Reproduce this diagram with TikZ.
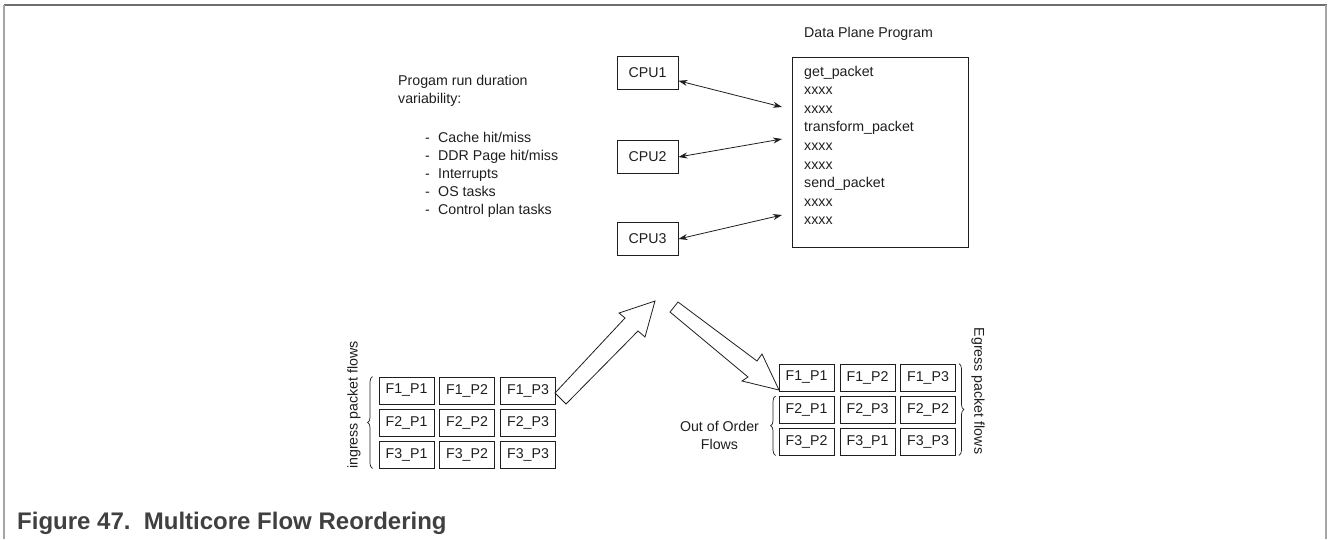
\documentclass[tikz,border=0pt]{standalone}
\usepackage{fontspec}
\setmainfont{Liberation Sans}
\usetikzlibrary{decorations.pathreplacing,arrows.meta,calc}
\definecolor{frametop}{RGB}{110,110,110}
\definecolor{frameside}{RGB}{165,165,165}
\definecolor{capgray}{RGB}{64,64,64}
\definecolor{ink}{RGB}{30,30,30}
\begin{document}
\begin{tikzpicture}[x=1pt,y=-1pt,
  txt/.style={font=\fontsize{14.2}{18.6}\selectfont, inner sep=0pt, text=ink},
  pkt/.style={draw=ink, line width=0.9pt, minimum width=55pt, minimum height=27pt, inner sep=0pt, font=\fontsize{14.2}{16}\selectfont, text=ink},
  cpu/.style={draw=ink, line width=0.9pt, minimum width=61pt, minimum height=33pt, inner sep=0pt, font=\fontsize{14.2}{16}\selectfont, text=ink},
  dbl/.style={{Stealth[length=9pt,width=6pt]}-{Stealth[length=9pt,width=6pt]}, line width=0.8pt, draw=ink},
  brc/.style={decorate, decoration={brace, amplitude=5pt}, line width=0.7pt, draw=ink},
  blk/.style={draw=ink, line width=0.8pt, fill=white, line join=miter}
]
\useasboundingbox (0,0) rectangle (1328,539);
% frame
\draw[frametop, line width=1.5pt] (4,5) -- (1327,5);
\draw[frameside, line width=1.2pt] (4,5) -- (4,539);
\draw[frameside, line width=1.2pt] (1326,5) -- (1326,539);

% data plane program
\node[txt, anchor=base west] (dpt) at (804,37) {Data Plane Program};
\node[draw=ink, line width=0.9pt, minimum width=176pt, minimum height=190pt, anchor=north west, inner sep=0pt] (dp) at (792,57) {};
\node[txt, anchor=base west] (l1) at (804,76) {get\_packet};
\node[txt, anchor=base west] (l2) at (804,94.6) {xxxx};
\node[txt, anchor=base west] (l3) at (804,113.2) {xxxx};
\node[txt, anchor=base west] (l4) at (804,131.8) {transform\_packet};
\node[txt, anchor=base west] (l5) at (804,150.4) {xxxx};
\node[txt, anchor=base west] (l6) at (804,169) {xxxx};
\node[txt, anchor=base west] (l7) at (804,187.6) {send\_packet};
\node[txt, anchor=base west] (l8) at (804,206.2) {xxxx};
\node[txt, anchor=base west] (l9) at (804,224.8) {xxxx};

% CPUs
\node[cpu] (cpu1) at (647.5,72.5) {CPU1};
\node[cpu] (cpu2) at (647.5,157) {CPU2};
\node[cpu] (cpu3) at (647.5,239) {CPU3};
\coordinate (d1) at (782,107);
\coordinate (d2) at (782,139);
\coordinate (d3) at (782,215);
\draw[dbl] (cpu1.-15) -- (d1);
\draw[dbl] (cpu2.east) -- (d2);
\draw[dbl] (cpu3.east) -- (d3);

% variability text
\node[txt, anchor=base west] (v1) at (398,85) {Progam run duration};
\node[txt, anchor=base west] (v2) at (398,103.5) {variability:};
\foreach \i/\t/\yy in {1/Cache hit\slash miss/142, 2/DDR Page hit\slash miss/160, 3/Interrupts/178, 4/OS tasks/196, 5/Control plan tasks/214}{
  \node[txt, anchor=base west] (dash\i) at (425,\yy) {-};
  \node[txt, anchor=base west] (b\i) at (438,\yy) {\t};
}

% ingress packets
\node[pkt] (i11) at (406.5,390.5) {F1\_P1};
\node[pkt] (i12) at (467,390.5) {F1\_P2};
\node[pkt] (i13) at (528,390.5) {F1\_P3};
\node[pkt] (i21) at (406.5,422.5) {F2\_P1};
\node[pkt] (i22) at (467,422.5) {F2\_P2};
\node[pkt] (i23) at (528,422.5) {F2\_P3};
\node[pkt] (i31) at (406.5,454.5) {F3\_P1};
\node[pkt] (i32) at (467,454.5) {F3\_P2};
\node[pkt] (i33) at (528,454.5) {F3\_P3};
\draw[brc] ($(i31.south west)+(-6,0)$) -- ($(i11.north west)+(-6,0)$);
\node[txt, rotate=90] (ing) at (354,405) {ingress packet flows};

% egress packets
\node[pkt] (e11) at (806.5,377.5) {F1\_P1};
\node[pkt] (e12) at (867.5,377.5) {F1\_P2};
\node[pkt] (e13) at (928,377.5) {F1\_P3};
\node[pkt] (e21) at (806.5,410) {F2\_P1};
\node[pkt] (e22) at (867.5,410) {F2\_P3};
\node[pkt] (e23) at (928,410) {F2\_P2};
\node[pkt] (e31) at (806.5,441.5) {F3\_P2};
\node[pkt] (e32) at (867.5,441.5) {F3\_P1};
\node[pkt] (e33) at (928,441.5) {F3\_P3};
\draw[brc] ($(e13.north east)+(3,0)$) -- ($(e33.south east)+(3,0)$);
\draw[brc] ($(e31.south west)+(-3,0)$) -- ($(e21.north west)+(-3,0)$);
\node[txt, rotate=-90] (egr) at (978,391) {Egress packet flows};
\node[txt, anchor=base] (oo1) at (719.5,431) {Out of Order};
\node[txt, anchor=base] (oo2) at (719.5,449) {Flows};

% block arrows
\draw[blk] (555,393) -- (625,318) -- (619,313) -- (655,301) -- (645,337) -- (638,331) -- (566,404) -- cycle;
\draw[blk] (670,312) -- (678,302) -- (757,361) -- (762,354) -- (779,390) -- (742,381) -- (748,377) -- cycle;

% caption
\node[anchor=base west, inner sep=0pt, text=capgray, font=\bfseries\fontsize{24}{28}\selectfont] (cap) at (17,529) {Figure 47.\ \ Multicore Flow Reordering};
\end{tikzpicture}
\end{document}
